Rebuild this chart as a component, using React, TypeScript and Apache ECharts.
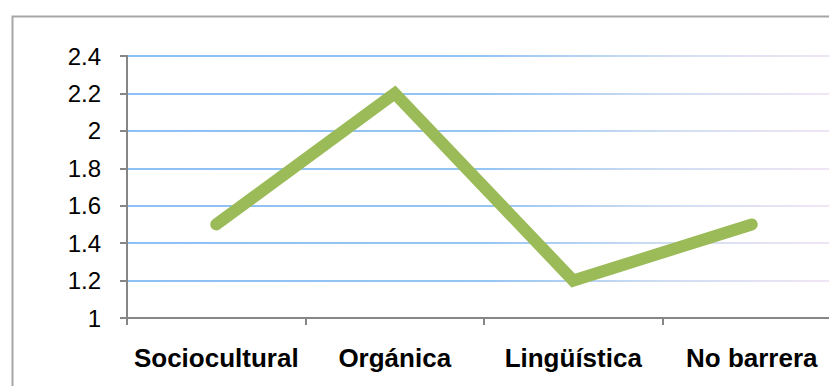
import React, { useEffect, useRef } from "react";
import * as echarts from "echarts";

// Barrier types on the category axis and the average score for each
const categories = ["Sociocultural", "Orgánica", "Lingüística", "No barrera"];
const scores = [1.5, 2.2, 1.2, 1.5];

// Value axis range
const yMin = 1;
const yMax = 2.4;
const yStep = 0.2;

// The chart area runs past the right edge of the window, so the canvas is wider
const CANVAS_W = 920;
const CANVAS_H = 400;
const GRID_LEFT = 127;
const GRID_TOP = 56;
const GRID_WIDTH = 714;
const GRID_HEIGHT = 262;

export default function App() {
  const ref = useRef<HTMLDivElement>(null);

  useEffect(() => {
    if (!ref.current) return;
    const chart = echarts.init(ref.current, null, { renderer: "svg" });

    const gridGradient = new echarts.graphic.LinearGradient(
      GRID_LEFT,
      0,
      GRID_LEFT + GRID_WIDTH,
      0,
      [
        { offset: 0, color: "#8dc0f4" },
        { offset: 0.5, color: "#95c5f3" },
        { offset: 0.75, color: "#cfddf2" },
        { offset: 1, color: "#f3e6f5" },
      ],
      true
    );

    chart.setOption({
      animation: false,
      backgroundColor: "#ffffff",
      textStyle: { fontFamily: "'Liberation Sans', Arial, sans-serif" },
      graphic: [
        {
          type: "rect",
          left: 10,
          top: 14,
          shape: { x: 0, y: 0, width: 950, height: 450 },
          style: { fill: "none", stroke: "#a6a6a6", lineWidth: 2 },
          silent: true,
          z: -1,
        },
      ],
      grid: {
        left: GRID_LEFT,
        top: GRID_TOP,
        width: GRID_WIDTH,
        height: GRID_HEIGHT,
        containLabel: false,
      },
      xAxis: {
        type: "category",
        data: categories,
        boundaryGap: true,
        axisLine: { lineStyle: { color: "#868686", width: 2 } },
        axisTick: { show: true, length: 7, lineStyle: { color: "#868686", width: 2 } },
        axisLabel: {
          color: "#000000",
          fontSize: 26,
          fontWeight: "bold",
          margin: 27,
          interval: 0,
        },
        splitLine: { show: false },
      },
      yAxis: {
        type: "value",
        min: yMin,
        max: yMax,
        interval: yStep,
        axisLine: { show: true, lineStyle: { color: "#868686", width: 2 } },
        axisTick: { show: true, length: 7, lineStyle: { color: "#868686", width: 2 } },
        axisLabel: {
          color: "#000000",
          fontSize: 24,
          margin: 26,
          formatter: (v: number) => String(Math.round(v * 10) / 10),
        },
        splitLine: { show: true, lineStyle: { color: gridGradient, width: 2 } },
      },
      series: [
        {
          type: "line",
          data: scores,
          showSymbol: false,
          symbol: "none",
          lineStyle: { color: "#9bbb59", width: 12, cap: "round", join: "miter" },
          z: 3,
        },
      ],
    });

    return () => chart.dispose();
  }, []);

  return (
    <div
      ref={ref}
      style={{ position: "fixed", left: 0, top: 0, width: CANVAS_W, height: CANVAS_H }}
    />
  );
}
